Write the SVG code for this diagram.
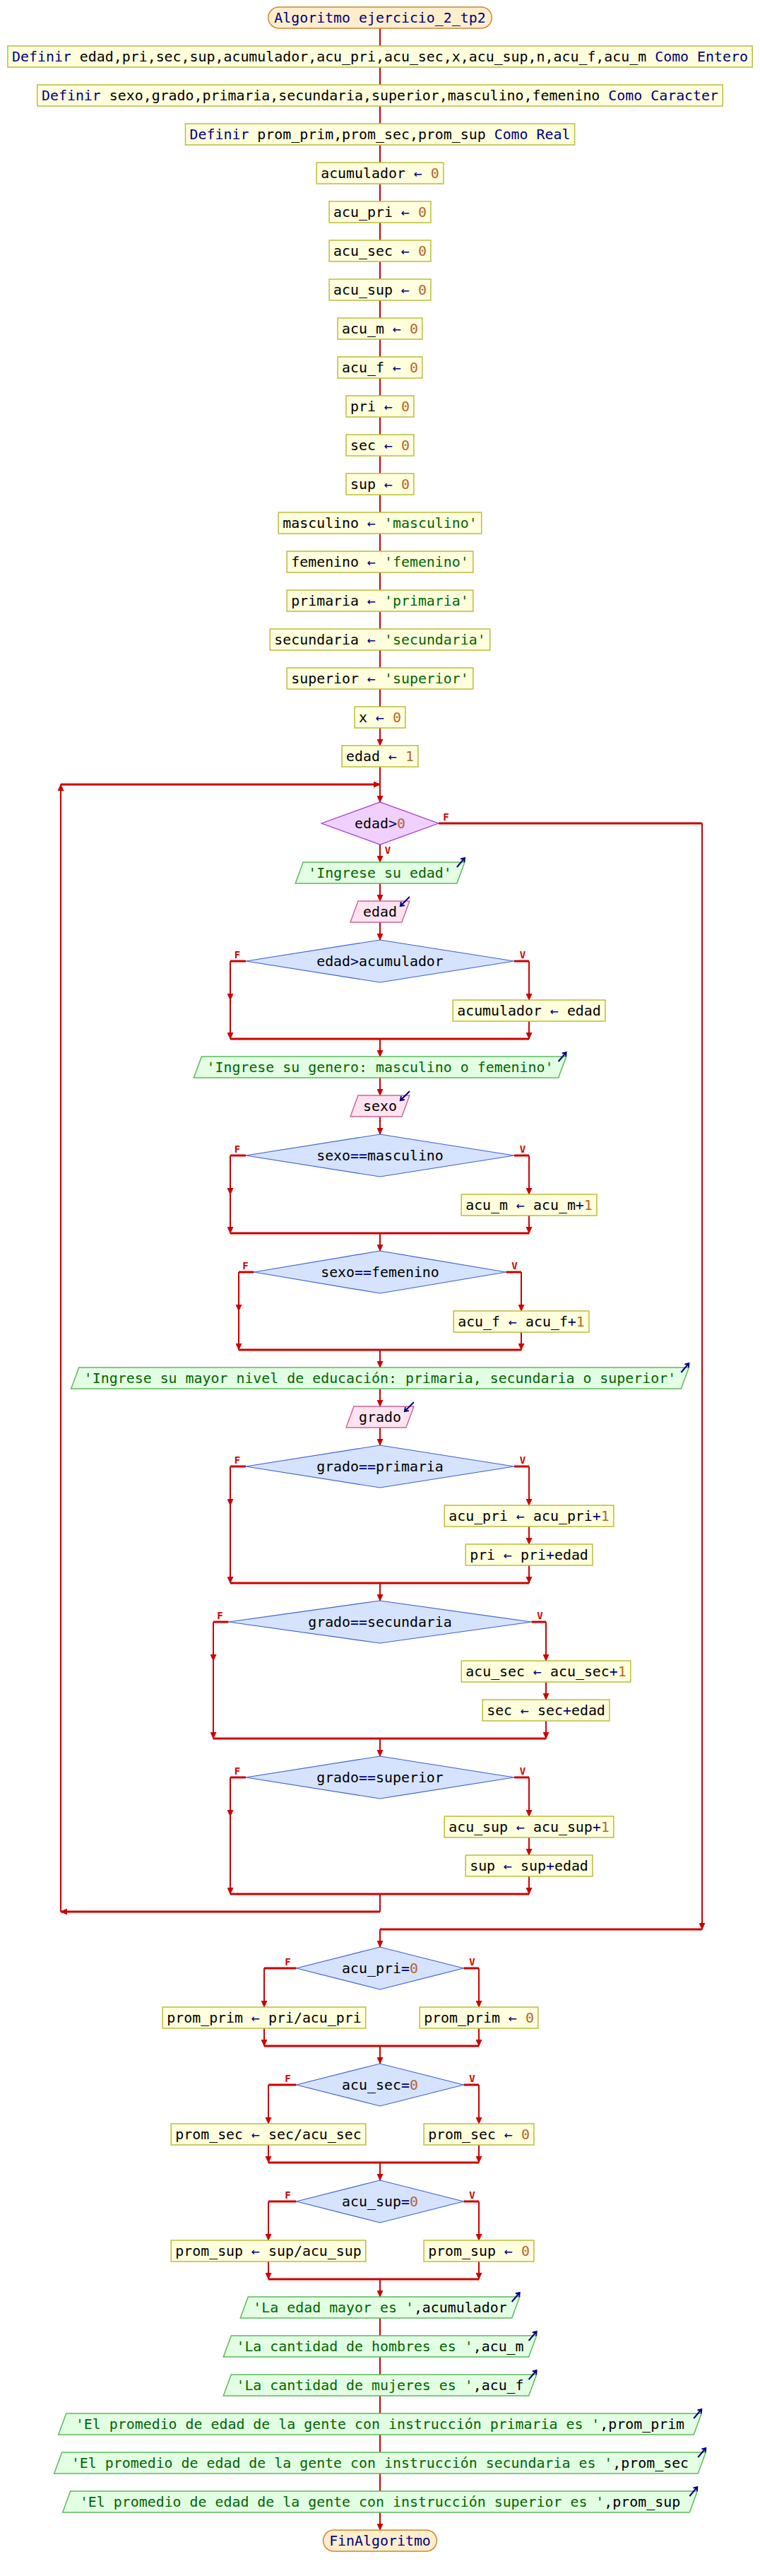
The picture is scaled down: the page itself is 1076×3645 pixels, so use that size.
<svg xmlns="http://www.w3.org/2000/svg" width="1076" height="3645" viewBox="0 0 1076 3645">
<style>
.t{font-family:"DejaVu Sans Mono","Liberation Mono",monospace;font-size:19.9px;text-anchor:middle;fill:#000}
.k{fill:#000080}
.n{fill:#b8632e}
.s{fill:#006600}
.proc{fill:#ffffdd;stroke:#bcbc3c;stroke-width:1.5}
.term{fill:#ffeecc;stroke:#cc8833;stroke-width:1.5}
.out{fill:#e3ffe3;stroke:#5cb85c;stroke-width:1.5}
.in{fill:#ffe3f0;stroke:#cc6699;stroke-width:1.5}
.dec{fill:#d5e3ff;stroke:#3f5fcf;stroke-width:1.2}
.wh{fill:#f0d0ff;stroke:#9933cc;stroke-width:1.2}
.c{stroke:#cc0000;stroke-width:2;fill:none}
.a{marker-end:url(#ah)}
.w{stroke-width:3}
.lbl{font-family:"DejaVu Sans Mono","Liberation Mono",monospace;font-size:14px;font-weight:bold;fill:#cc0000;text-anchor:middle}
.ico{stroke:#000080;stroke-width:2;fill:none}
</style>
<defs>
<marker id="ah" markerUnits="userSpaceOnUse" markerWidth="10" markerHeight="9" viewBox="0 0 10 9" refX="9" refY="4.5" orient="auto"><path d="M0,0L10,4.5L0,9z" fill="#cc0000"/></marker>
</defs>
<rect width="1076" height="3645" fill="#fff"/>
<g id="connectors">
<path class="c a" d="M538,40V65M538,95V120M538,150V175M538,205V230M538,260V285M538,315V340M538,370V395M538,425V450M538,480V505M538,535V560M538,590V615M538,645V670M538,700V725M538,755V780M538,810V835M538,865V890M538,920V945M538,975V1000M538,1030V1055"/>
<path class="c a" d="M538,1085V1135"/>
<path class="c a" d="M538,1195V1220"/><path class="c a" d="M538,1250V1275"/><path class="c a" d="M538,1305V1330"/>
<!-- if1 -->
<path class="c w" d="M348,1360H326M728,1360H749M326,1470H749"/>
<path class="c a" d="M326,1360V1415"/><path class="c a" d="M326,1415V1470"/>
<path class="c a" d="M749,1360V1415"/><path class="c a" d="M749,1445V1470"/>
<path class="c a" d="M538,1470V1495"/><path class="c a" d="M538,1525V1550"/><path class="c a" d="M538,1580V1605"/>
<!-- if2 -->
<path class="c w" d="M348,1635H326M728,1635H749M326,1745H749"/>
<path class="c a" d="M326,1635V1690"/><path class="c a" d="M326,1690V1745"/>
<path class="c a" d="M749,1635V1690"/><path class="c a" d="M749,1720V1745"/>
<path class="c a" d="M538,1745V1770"/>
<!-- if3 -->
<path class="c w" d="M359.5,1800H338M716.5,1800H738M338,1910H738"/>
<path class="c a" d="M338,1800V1855"/><path class="c a" d="M338,1855V1910"/>
<path class="c a" d="M738,1800V1855"/><path class="c a" d="M738,1885V1910"/>
<path class="c a" d="M538,1910V1935"/><path class="c a" d="M538,1965V1990"/><path class="c a" d="M538,2020V2045"/>
<!-- if4 -->
<path class="c w" d="M348,2075H326M728,2075H749M326,2240H749"/>
<path class="c a" d="M326,2075V2130"/><path class="c a" d="M326,2130V2240"/>
<path class="c a" d="M749,2075V2130"/><path class="c a" d="M749,2160V2185"/><path class="c a" d="M749,2215V2240"/>
<path class="c a" d="M538,2240V2265"/>
<!-- if5 -->
<path class="c w" d="M323.5,2295H302M752.5,2295H773M302,2460H773"/>
<path class="c a" d="M302,2295V2350"/><path class="c a" d="M302,2350V2460"/>
<path class="c a" d="M773,2295V2350"/><path class="c a" d="M773,2380V2405"/><path class="c a" d="M773,2435V2460"/>
<path class="c a" d="M538,2460V2485"/>
<!-- if6 -->
<path class="c w" d="M348,2515H326M728,2515H749M326,2680H749"/>
<path class="c a" d="M326,2515V2570"/><path class="c a" d="M326,2570V2680"/>
<path class="c a" d="M749,2515V2570"/><path class="c a" d="M749,2600V2625"/><path class="c a" d="M749,2655V2680"/>
<!-- loop back -->
<path class="c" d="M538,2680V2705"/>
<path class="c w a" d="M538,2705H86"/>
<path class="c a" d="M86,2705V1110"/>
<path class="c w a" d="M86,1110H538"/>
<!-- while exit -->
<path class="c w" d="M621,1165H994"/>
<path class="c a" d="M994,1165V2730"/>
<path class="c w" d="M994,2730H538"/>
<path class="c a" d="M538,2730V2755"/>
<!-- if7 -->
<path class="c w" d="M419.5,2785H374M656.5,2785H678M374,2895H678"/>
<path class="c a" d="M374,2785V2840"/><path class="c a" d="M374,2870V2895"/>
<path class="c a" d="M678,2785V2840"/><path class="c a" d="M678,2870V2895"/>
<path class="c a" d="M538,2895V2920"/>
<!-- if8 -->
<path class="c w" d="M419.5,2950H380M656.5,2950H678M380,3060H678"/>
<path class="c a" d="M380,2950V3005"/><path class="c a" d="M380,3035V3060"/>
<path class="c a" d="M678,2950V3005"/><path class="c a" d="M678,3035V3060"/>
<path class="c a" d="M538,3060V3085"/>
<!-- if9 -->
<path class="c w" d="M419.5,3115H380M656.5,3115H678M380,3225H678"/>
<path class="c a" d="M380,3115V3170"/><path class="c a" d="M380,3200V3225"/>
<path class="c a" d="M678,3115V3170"/><path class="c a" d="M678,3200V3225"/>
<path class="c a" d="M538,3225V3250"/>
<path class="c a" d="M538,3280V3305M538,3335V3360M538,3390V3415M538,3445V3470M538,3500V3525M538,3555V3580"/>
<text class="lbl" x="631.5" y="1161">F</text><text class="lbl" x="549" y="1208">V</text>
<text class="lbl" x="336" y="1356">F</text><text class="lbl" x="740" y="1356">V</text>
<text class="lbl" x="336" y="1631">F</text><text class="lbl" x="740" y="1631">V</text>
<text class="lbl" x="347.5" y="1796">F</text><text class="lbl" x="728.5" y="1796">V</text>
<text class="lbl" x="336" y="2071">F</text><text class="lbl" x="740" y="2071">V</text>
<text class="lbl" x="311.5" y="2291">F</text><text class="lbl" x="764.5" y="2291">V</text>
<text class="lbl" x="336" y="2511">F</text><text class="lbl" x="740" y="2511">V</text>
<text class="lbl" x="407.5" y="2781">F</text><text class="lbl" x="668.5" y="2781">V</text>
<text class="lbl" x="407.5" y="2946">F</text><text class="lbl" x="668.5" y="2946">V</text>
<text class="lbl" x="407.5" y="3111">F</text><text class="lbl" x="668.5" y="3111">V</text>
</g>
<g id="start"><rect class="term" x="379.8" y="10" width="316.5" height="30" rx="15"/><text class="t k" x="538" y="32">Algoritmo ejercicio_2_tp2</text></g>
<g id="def1"><rect class="proc" x="10.9" y="65" width="1054.3" height="30"/><text class="t" x="538" y="87"><tspan class="k">Definir</tspan> edad,pri,sec,sup,acumulador,acu_pri,acu_sec,x,acu_sup,n,acu_f,acu_m <tspan class="k">Como Entero</tspan></text></g>
<g id="def2"><rect class="proc" x="52.8" y="120" width="970.4" height="30"/><text class="t" x="538" y="142"><tspan class="k">Definir</tspan> sexo,grado,primaria,secundaria,superior,masculino,femenino <tspan class="k">Como Caracter</tspan></text></g>
<g id="def3"><rect class="proc" x="262.5" y="175" width="551.1" height="30"/><text class="t" x="538" y="197"><tspan class="k">Definir</tspan> prom_prim,prom_sec,prom_sup <tspan class="k">Como Real</tspan></text></g>
<g id="a_acumulador"><rect class="proc" x="448.2" y="230" width="179.7" height="30"/><text class="t" x="538" y="252">acumulador <tspan class="k">←</tspan> <tspan class="n">0</tspan></text></g>
<g id="a_acu_pri"><rect class="proc" x="466.1" y="285" width="143.8" height="30"/><text class="t" x="538" y="307">acu_pri <tspan class="k">←</tspan> <tspan class="n">0</tspan></text></g>
<g id="a_acu_sec"><rect class="proc" x="466.1" y="340" width="143.8" height="30"/><text class="t" x="538" y="362">acu_sec <tspan class="k">←</tspan> <tspan class="n">0</tspan></text></g>
<g id="a_acu_sup"><rect class="proc" x="466.1" y="395" width="143.8" height="30"/><text class="t" x="538" y="417">acu_sup <tspan class="k">←</tspan> <tspan class="n">0</tspan></text></g>
<g id="a_acu_m"><rect class="proc" x="478.1" y="450" width="119.8" height="30"/><text class="t" x="538" y="472">acu_m <tspan class="k">←</tspan> <tspan class="n">0</tspan></text></g>
<g id="a_acu_f"><rect class="proc" x="478.1" y="505" width="119.8" height="30"/><text class="t" x="538" y="527">acu_f <tspan class="k">←</tspan> <tspan class="n">0</tspan></text></g>
<g id="a_pri"><rect class="proc" x="490" y="560" width="95.9" height="30"/><text class="t" x="538" y="582">pri <tspan class="k">←</tspan> <tspan class="n">0</tspan></text></g>
<g id="a_sec"><rect class="proc" x="490" y="615" width="95.9" height="30"/><text class="t" x="538" y="637">sec <tspan class="k">←</tspan> <tspan class="n">0</tspan></text></g>
<g id="a_sup"><rect class="proc" x="490" y="670" width="95.9" height="30"/><text class="t" x="538" y="692">sup <tspan class="k">←</tspan> <tspan class="n">0</tspan></text></g>
<g id="a_masculino"><rect class="proc" x="394.2" y="725" width="287.5" height="30"/><text class="t" x="538" y="747">masculino <tspan class="k">←</tspan> <tspan class="s">'masculino'</tspan></text></g>
<g id="a_femenino"><rect class="proc" x="406.2" y="780" width="263.6" height="30"/><text class="t" x="538" y="802">femenino <tspan class="k">←</tspan> <tspan class="s">'femenino'</tspan></text></g>
<g id="a_primaria"><rect class="proc" x="406.2" y="835" width="263.6" height="30"/><text class="t" x="538" y="857">primaria <tspan class="k">←</tspan> <tspan class="s">'primaria'</tspan></text></g>
<g id="a_secundaria"><rect class="proc" x="382.2" y="890" width="311.5" height="30"/><text class="t" x="538" y="912">secundaria <tspan class="k">←</tspan> <tspan class="s">'secundaria'</tspan></text></g>
<g id="a_superior"><rect class="proc" x="406.2" y="945" width="263.6" height="30"/><text class="t" x="538" y="967">superior <tspan class="k">←</tspan> <tspan class="s">'superior'</tspan></text></g>
<g id="a_x"><rect class="proc" x="502" y="1000" width="71.9" height="30"/><text class="t" x="538" y="1022">x <tspan class="k">←</tspan> <tspan class="n">0</tspan></text></g>
<g id="a_edad"><rect class="proc" x="484.1" y="1055" width="107.8" height="30"/><text class="t" x="538" y="1077">edad <tspan class="k">←</tspan> <tspan class="n">1</tspan></text></g>
<g id="while_edad"><polygon class="wh" points="455,1165 538,1135 621,1165 538,1195"/><text class="t" x="538" y="1172">edad<tspan class="k">&gt;</tspan><tspan class="n">0</tspan></text></g>
<g id="out_edad"><polygon class="out" points="429.2,1220 657.9,1220 646.9,1250 418.2,1250"/><text class="t s" x="538" y="1242">'Ingrese su edad'</text><path class="ico" d="M646.9,1227L657.9,1214M652.1,1215.5L657.9,1214L657.4,1220"/></g>
<g id="in_edad"><polygon class="in" points="507,1275 579.9,1275 568.9,1305 496,1305"/><text class="t" x="538" y="1297">edad</text><path class="ico" d="M579.9,1269L566.9,1282M572.8,1281L566.9,1282L567.9,1276.1"/></g>
<g id="if_acumulador"><polygon class="dec" points="348,1360 538,1330 728,1360 538,1390"/><text class="t" x="538" y="1367">edad<tspan class="k">&gt;</tspan>acumulador</text></g>
<g id="set_acumulador"><rect class="proc" x="641.2" y="1415" width="215.7" height="30"/><text class="t" x="749" y="1437">acumulador <tspan class="k">←</tspan> edad</text></g>
<g id="out_genero"><polygon class="out" points="285.4,1495 801.6,1495 790.6,1525 274.4,1525"/><text class="t s" x="538" y="1517">'Ingrese su genero: masculino o femenino'</text><path class="ico" d="M790.6,1502L801.6,1489M795.8,1490.5L801.6,1489L801.1,1495"/></g>
<g id="in_sexo"><polygon class="in" points="507,1550 579.9,1550 568.9,1580 496,1580"/><text class="t" x="538" y="1572">sexo</text><path class="ico" d="M579.9,1544L566.9,1557M572.8,1556L566.9,1557L567.9,1551.1"/></g>
<g id="if_masculino"><polygon class="dec" points="348,1635 538,1605 728,1635 538,1665"/><text class="t" x="538" y="1642">sexo<tspan class="k">==</tspan>masculino</text></g>
<g id="inc_acu_m"><rect class="proc" x="653.2" y="1690" width="191.7" height="30"/><text class="t" x="749" y="1712">acu_m <tspan class="k">←</tspan> acu_m<tspan class="k">+</tspan><tspan class="n">1</tspan></text></g>
<g id="if_femenino"><polygon class="dec" points="359.5,1800 538,1770 716.5,1800 538,1830"/><text class="t" x="538" y="1807">sexo<tspan class="k">==</tspan>femenino</text></g>
<g id="inc_acu_f"><rect class="proc" x="642.2" y="1855" width="191.7" height="30"/><text class="t" x="738" y="1877">acu_f <tspan class="k">←</tspan> acu_f<tspan class="k">+</tspan><tspan class="n">1</tspan></text></g>
<g id="out_educacion"><polygon class="out" points="111.7,1935 975.3,1935 964.3,1965 100.7,1965"/><text class="t s" x="538" y="1957">'Ingrese su mayor nivel de educación: primaria, secundaria o superior'</text><path class="ico" d="M964.3,1942L975.3,1929M969.5,1930.5L975.3,1929L974.8,1935"/></g>
<g id="in_grado"><polygon class="in" points="501,1990 585.9,1990 574.9,2020 490,2020"/><text class="t" x="538" y="2012">grado</text><path class="ico" d="M585.9,1984L572.9,1997M578.8,1996L572.9,1997L573.9,1991.1"/></g>
<g id="if_primaria"><polygon class="dec" points="348,2075 538,2045 728,2075 538,2105"/><text class="t" x="538" y="2082">grado<tspan class="k">==</tspan>primaria</text></g>
<g id="inc_acu_pri"><rect class="proc" x="629.2" y="2130" width="239.6" height="30"/><text class="t" x="749" y="2152">acu_pri <tspan class="k">←</tspan> acu_pri<tspan class="k">+</tspan><tspan class="n">1</tspan></text></g>
<g id="sum_pri"><rect class="proc" x="659.2" y="2185" width="179.7" height="30"/><text class="t" x="749" y="2207">pri <tspan class="k">←</tspan> pri<tspan class="k">+</tspan>edad</text></g>
<g id="if_secundaria"><polygon class="dec" points="323.5,2295 538,2265 752.5,2295 538,2325"/><text class="t" x="538" y="2302">grado<tspan class="k">==</tspan>secundaria</text></g>
<g id="inc_acu_sec"><rect class="proc" x="653.2" y="2350" width="239.6" height="30"/><text class="t" x="773" y="2372">acu_sec <tspan class="k">←</tspan> acu_sec<tspan class="k">+</tspan><tspan class="n">1</tspan></text></g>
<g id="sum_sec"><rect class="proc" x="683.2" y="2405" width="179.7" height="30"/><text class="t" x="773" y="2427">sec <tspan class="k">←</tspan> sec<tspan class="k">+</tspan>edad</text></g>
<g id="if_superior"><polygon class="dec" points="348,2515 538,2485 728,2515 538,2545"/><text class="t" x="538" y="2522">grado<tspan class="k">==</tspan>superior</text></g>
<g id="inc_acu_sup"><rect class="proc" x="629.2" y="2570" width="239.6" height="30"/><text class="t" x="749" y="2592">acu_sup <tspan class="k">←</tspan> acu_sup<tspan class="k">+</tspan><tspan class="n">1</tspan></text></g>
<g id="sum_sup"><rect class="proc" x="659.2" y="2625" width="179.7" height="30"/><text class="t" x="749" y="2647">sup <tspan class="k">←</tspan> sup<tspan class="k">+</tspan>edad</text></g>
<g id="if_acu_pri"><polygon class="dec" points="419.5,2785 538,2755 656.5,2785 538,2815"/><text class="t" x="538" y="2792">acu_pri<tspan class="k">=</tspan><tspan class="n">0</tspan></text></g>
<g id="prom_prim_div"><rect class="proc" x="230.2" y="2840" width="287.5" height="30"/><text class="t" x="374" y="2862">prom_prim <tspan class="k">←</tspan> pri/acu_pri</text></g>
<g id="prom_prim_0"><rect class="proc" x="594.1" y="2840" width="167.7" height="30"/><text class="t" x="678" y="2862">prom_prim <tspan class="k">←</tspan> <tspan class="n">0</tspan></text></g>
<g id="if_acu_sec"><polygon class="dec" points="419.5,2950 538,2920 656.5,2950 538,2980"/><text class="t" x="538" y="2957">acu_sec<tspan class="k">=</tspan><tspan class="n">0</tspan></text></g>
<g id="prom_sec_div"><rect class="proc" x="242.2" y="3005" width="275.6" height="30"/><text class="t" x="380" y="3027">prom_sec <tspan class="k">←</tspan> sec/acu_sec</text></g>
<g id="prom_sec_0"><rect class="proc" x="600.1" y="3005" width="155.8" height="30"/><text class="t" x="678" y="3027">prom_sec <tspan class="k">←</tspan> <tspan class="n">0</tspan></text></g>
<g id="if_acu_sup"><polygon class="dec" points="419.5,3115 538,3085 656.5,3115 538,3145"/><text class="t" x="538" y="3122">acu_sup<tspan class="k">=</tspan><tspan class="n">0</tspan></text></g>
<g id="prom_sup_div"><rect class="proc" x="242.2" y="3170" width="275.6" height="30"/><text class="t" x="380" y="3192">prom_sup <tspan class="k">←</tspan> sup/acu_sup</text></g>
<g id="prom_sup_0"><rect class="proc" x="600.1" y="3170" width="155.8" height="30"/><text class="t" x="678" y="3192">prom_sup <tspan class="k">←</tspan> <tspan class="n">0</tspan></text></g>
<g id="out_mayor"><polygon class="out" points="351.3,3250 735.7,3250 724.7,3280 340.3,3280"/><text class="t" x="538" y="3272"><tspan class="s">'La edad mayor es '</tspan>,acumulador</text><path class="ico" d="M724.7,3257L735.7,3244M729.9,3245.5L735.7,3244L735.2,3250"/></g>
<g id="out_hombres"><polygon class="out" points="327.3,3305 759.6,3305 748.6,3335 316.3,3335"/><text class="t" x="538" y="3327"><tspan class="s">'La cantidad de hombres es '</tspan>,acu_m</text><path class="ico" d="M748.6,3312L759.6,3299M753.8,3300.5L759.6,3299L759.1,3305"/></g>
<g id="out_mujeres"><polygon class="out" points="327.3,3360 759.6,3360 748.6,3390 316.3,3390"/><text class="t" x="538" y="3382"><tspan class="s">'La cantidad de mujeres es '</tspan>,acu_f</text><path class="ico" d="M748.6,3367L759.6,3354M753.8,3355.5L759.6,3354L759.1,3360"/></g>
<g id="out_prom_prim"><polygon class="out" points="93.7,3415 993.2,3415 982.2,3445 82.7,3445"/><text class="t" x="538" y="3437"><tspan class="s">'El promedio de edad de la gente con instrucción primaria es '</tspan>,prom_prim</text><path class="ico" d="M982.2,3422L993.2,3409M987.4,3410.5L993.2,3409L992.7,3415"/></g>
<g id="out_prom_sec"><polygon class="out" points="87.7,3470 999.2,3470 988.2,3500 76.7,3500"/><text class="t" x="538" y="3492"><tspan class="s">'El promedio de edad de la gente con instrucción secundaria es '</tspan>,prom_sec</text><path class="ico" d="M988.2,3477L999.2,3464M993.4,3465.5L999.2,3464L998.7,3470"/></g>
<g id="out_prom_sup"><polygon class="out" points="99.7,3525 987.3,3525 976.3,3555 88.7,3555"/><text class="t" x="538" y="3547"><tspan class="s">'El promedio de edad de la gente con instrucción superior es '</tspan>,prom_sup</text><path class="ico" d="M976.3,3532L987.3,3519M981.5,3520.5L987.3,3519L986.8,3525"/></g>
<g id="end"><rect class="term" x="457.6" y="3580" width="160.8" height="30" rx="15"/><text class="t k" x="538" y="3602">FinAlgoritmo</text></g>
</svg>
